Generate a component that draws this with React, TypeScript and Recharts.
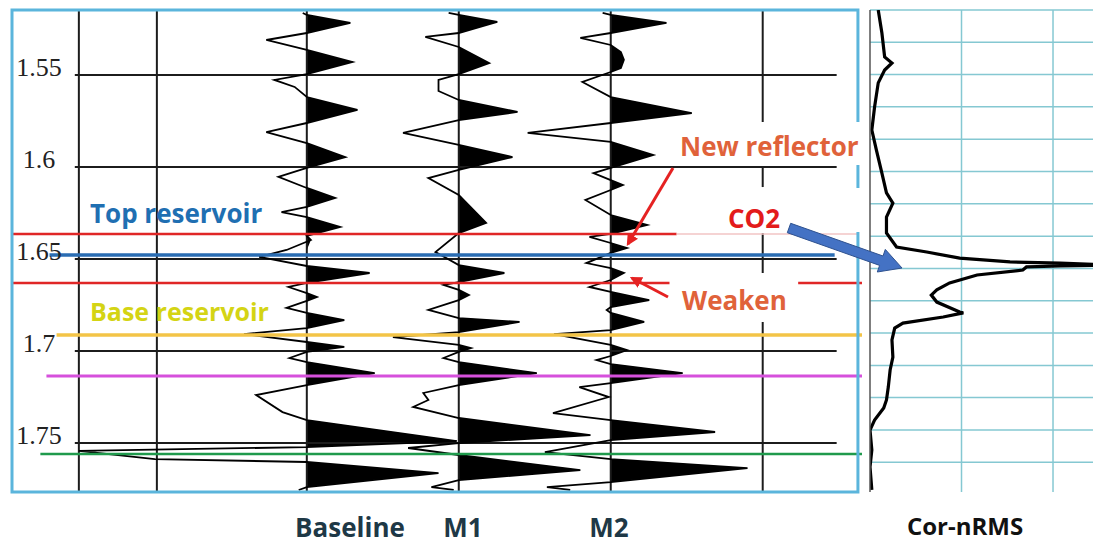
import React from 'react';
import { ComposedChart, LineChart, Line, Area, XAxis, YAxis, ReferenceLine, ReferenceArea } from 'recharts';

// ---------- data ----------
const timeTicks = [1.55, 1.6, 1.65, 1.7, 1.75];
const timeDomain: [number, number] = [1.5147, 1.7766];

const traceNames = ['Baseline', 'M1', 'M2'];
const traceOffsets = [300, 450, 600];
const gridColumns = [75, 152];

// [time (s), amplitude]
const baselineTrace: [number, number][] = [
  [1.5163, -4], [1.5174, 0], [1.5217, 43], [1.5272, 0], [1.531, -40], [1.5364, 0], [1.5429, 45], [1.5495, 0],
  [1.5527, -32], [1.5565, -12], [1.562, 0], [1.569, 50], [1.5761, 0], [1.581, -40], [1.587, 0], [1.5946, 38],
  [1.6005, 0], [1.6054, -28], [1.6114, 0], [1.6168, 28], [1.6217, 0], [1.6245, -25], [1.6272, 0], [1.6326, 33],
  [1.6375, 0], [1.6397, 4], [1.6451, -20], [1.6489, -47], [1.6538, 0], [1.6576, 62], [1.663, 0], [1.6652, -18],
  [1.6685, 0], [1.6707, 10], [1.6728, 0], [1.6766, -20], [1.6793, 0], [1.6832, 37], [1.6875, 0], [1.6908, -62],
  [1.6951, 0], [1.6978, 37], [1.7005, 0], [1.7038, -17], [1.706, 0], [1.712, 67], [1.7185, 0], [1.7239, -50],
  [1.7332, -24], [1.7375, 0], [1.7489, 148], [1.7522, 0], [1.7543, -225], [1.7587, -150], [1.7603, 0],
  [1.7663, 130], [1.7739, 0], [1.7755, -8],
];

const m1Trace: [number, number][] = [
  [1.5163, -10], [1.5174, 0], [1.5212, 38], [1.5272, 0], [1.5293, -33], [1.5348, 0], [1.5435, 30], [1.5495, 0],
  [1.5527, -20], [1.5587, -20], [1.5636, 0], [1.5701, 58], [1.5745, 0], [1.5815, -55], [1.588, 0], [1.5946, 53],
  [1.6016, 0], [1.606, -30], [1.6152, 0], [1.6304, 27], [1.6359, 0], [1.6462, -23], [1.6533, 0], [1.6576, 45],
  [1.6625, 0], [1.6641, -15], [1.6668, 0], [1.6696, 10], [1.6723, 0], [1.6777, -30], [1.6821, 0], [1.6842, 60],
  [1.6897, 0], [1.6924, -65], [1.6967, 0], [1.6984, 12], [1.7005, 0], [1.7038, -15], [1.706, 0], [1.712, 77],
  [1.7185, 0], [1.7228, -35], [1.7266, -30], [1.7304, -45], [1.7364, 0], [1.7457, 130], [1.75, 0], [1.7527, -50],
  [1.7565, 0], [1.7647, 120], [1.7701, 0], [1.7739, -27], [1.7755, -5],
];

const m2Trace: [number, number][] = [
  [1.5163, -8], [1.5174, 0], [1.5217, 55], [1.5272, 0], [1.5299, -30], [1.5337, 0], [1.5375, 10], [1.5418, 13],
  [1.5462, 10], [1.5484, 0], [1.5538, -28], [1.562, 0], [1.5707, 80], [1.5761, 0], [1.5815, -82], [1.5864, 0],
  [1.5935, 42], [1.6005, 0], [1.6033, -17], [1.6071, 0], [1.6098, 12], [1.6125, 0], [1.6179, -25], [1.6261, 0],
  [1.6315, 36], [1.6364, 0], [1.638, -21], [1.6413, 0], [1.644, 16], [1.6467, 0], [1.6522, -24], [1.6549, 0],
  [1.6576, 13], [1.6614, 0], [1.6652, -21], [1.6679, 0], [1.6723, 38], [1.6761, 0], [1.6777, -4], [1.6793, 0],
  [1.6842, 33], [1.6886, 0], [1.6908, -56], [1.6967, 0], [1.6995, 16], [1.7027, 0], [1.7049, -14], [1.7071, 0],
  [1.712, 71], [1.7174, 0], [1.7196, -31], [1.725, -2], [1.7337, -57], [1.7375, 0], [1.744, 103], [1.7484, 0],
  [1.7549, -65], [1.7587, 0], [1.7636, 135], [1.7712, 0], [1.7739, -63], [1.7755, -40],
];

const horizonNames = ['red-top', 'top reservoir', 'red-base', 'base reservoir', 'magenta', 'green'];
const horizonTimes = [1.6364, 1.6478, 1.663, 1.6913, 1.7136, 1.756];

const corTimes = [
  1.5147, 1.5272, 1.5402, 1.5435, 1.5473, 1.5543, 1.5674, 1.5799, 1.5908, 1.6033, 1.6141, 1.6196, 1.6272,
  1.6359, 1.6435, 1.6462, 1.6495, 1.6516, 1.6522, 1.6533, 1.6538, 1.6543, 1.656, 1.6587, 1.663, 1.6668,
  1.6696, 1.6734, 1.6788, 1.6793, 1.6815, 1.6848, 1.6875, 1.694, 1.7033, 1.7103, 1.7196, 1.7266, 1.731,
  1.7375, 1.7429, 1.7538, 1.763, 1.7755,
];
const corNrms = [
  0.09, 0.13, 0.16, 0.24, 0.16, 0.09, 0.05, 0.02, 0.07, 0.13, 0.18, 0.25, 0.18,
  0.18, 0.29, 0.62, 0.98, 1.53, 2.08, 2.6, 2.08, 1.71, 1.67, 1.17, 0.87, 0.73,
  0.67, 0.73, 0.98, 1.02, 0.8, 0.36, 0.27, 0.24, 0.25, 0.22, 0.2, 0.18, 0.15,
  0.05, 0.0, 0.02, 0.0, 0.02,
];
const corGridTimes = [
  1.5147, 1.5322, 1.5498, 1.5673, 1.5849, 1.6025, 1.62, 1.6376, 1.6551, 1.6727, 1.6902, 1.7078, 1.7253,
  1.7429, 1.7604,
];
const corGridValues = [1, 2];

// ---------- derived tables ----------
const traces = [baselineTrace, m1Trace, m2Trace];
const lineData = traces.map((tr, i) => tr.map(([t, a]) => ({ t, v: traceOffsets[i] + a })));
const fillData = traces.map((tr, i) => tr.map(([t, a]) => ({ t, v: traceOffsets[i] + Math.max(a, 0) })));
const corData = corTimes.map((t, i) => ({ t, v: corNrms[i] }));

const horizonStyles = [
  { stroke: '#e02626', w: 2.5, x1: 9, x2: 665 },
  { stroke: '#2a6db3', w: 3.5, x1: 46, x2: 821 },
  { stroke: '#e02626', w: 2.5, x1: 9, x2: 658 },
  { stroke: '#f3c447', w: 3.5, x1: 53, x2: 848 },
  { stroke: '#d650dc', w: 3, x1: 43, x2: 848 },
  { stroke: '#1f9a4c', w: 2.5, x1: 37, x2: 848 },
];

const labelFont = "'Open Sans', 'DejaVu Sans', sans-serif";

const TimeTick = (props: any) => {
  const { y, payload } = props;
  return (
    <text x={39} y={y + 1} textAnchor="middle" fontFamily="'Liberation Serif', serif" fontSize={26} fill="#222">
      {payload.value}
    </text>
  );
};

export default function App() {
  const xDomain: [number, number] = [9, 849];
  return (
    <div style={{ position: 'absolute', left: 0, top: 0, width: 1093, height: 545, background: '#fff', overflow: 'hidden' }}>
      <div style={{ position: 'absolute', left: 0, top: 0 }}>
        <ComposedChart layout="vertical" width={870} height={500} margin={{ top: 10, left: 11, right: 7, bottom: 8 }}>
          <XAxis type="number" domain={xDomain} hide allowDataOverflow />
          <YAxis
            type="number"
            dataKey="t"
            domain={timeDomain}
            allowDataOverflow
            ticks={timeTicks}
            interval={0}
            width={1}
            axisLine={false}
            tickLine={false}
            tick={(p: any) => <TimeTick {...p} />}
          />
          {/* black grid */}
          {timeTicks.map((t) => (
            <ReferenceLine key={'h' + t} segment={[{ x: 71, y: t }, { x: 823, y: t }]} stroke="#1c1c1c" strokeWidth={2} />
          ))}
          {gridColumns.concat(traceOffsets).map((x) => (
            <ReferenceLine key={'v' + x} x={x} stroke="#1c1c1c" strokeWidth={2} />
          ))}
          <ReferenceLine segment={[{ x: 750, y: 1.5147 }, { x: 750, y: 1.5767 }]} stroke="#1c1c1c" strokeWidth={2} />
          <ReferenceLine segment={[{ x: 750, y: 1.6 }, { x: 750, y: 1.6109 }]} stroke="#1c1c1c" strokeWidth={2} />
          <ReferenceLine segment={[{ x: 750, y: 1.6359 }, { x: 750, y: 1.6576 }]} stroke="#1c1c1c" strokeWidth={2} />
          <ReferenceLine segment={[{ x: 750, y: 1.6842 }, { x: 750, y: 1.7766 }]} stroke="#1c1c1c" strokeWidth={2} />

          {/* wiggle traces */}
          {traceNames.map((name, i) => (
            <Area
              key={'fill' + name}
              data={fillData[i]}
              dataKey="v"
              type="linear"
              baseValue={traceOffsets[i]}
              fill="#000"
              fillOpacity={1}
              stroke="none"
              dot={false}
              activeDot={false}
              isAnimationActive={false}
            />
          ))}
          {traceNames.map((name, i) => (
            <Line
              key={'line' + name}
              data={lineData[i]}
              dataKey="v"
              type="linear"
              stroke="#000"
              strokeWidth={1.8}
              dot={false}
              activeDot={false}
              isAnimationActive={false}
            />
          ))}

          {/* horizons */}
          {horizonTimes.map((t, i) => (
            <ReferenceLine
              key={horizonNames[i]}
              segment={[{ x: horizonStyles[i].x1, y: t }, { x: horizonStyles[i].x2, y: t }]}
              stroke={horizonStyles[i].stroke}
              strokeWidth={horizonStyles[i].w}
              zIndex={1500}
            />
          ))}
          <ReferenceLine segment={[{ x: 665, y: horizonTimes[0] }, { x: 844, y: horizonTimes[0] }]} stroke="#f2c4c4" strokeWidth={1.5} zIndex={1500} />
          <ReferenceLine segment={[{ x: 785, y: horizonTimes[2] }, { x: 848, y: horizonTimes[2] }]} stroke="#e02626" strokeWidth={2.5} zIndex={1500} />

          <ReferenceArea
            x1={9}
            x2={844}
            y1={timeDomain[0]}
            y2={timeDomain[1]}
            fill="none"
            stroke="#5bb5dc"
            strokeWidth={3}
            ifOverflow="visible"
            zIndex={1600}
          />
        </ComposedChart>
      </div>

      <div style={{ position: 'absolute', left: 860, top: 0 }}>
        <LineChart layout="vertical" width={233} height={500} margin={{ top: 10, left: 9, right: 0, bottom: 8 }}>
          <XAxis type="number" domain={[0, 2.437]} hide allowDataOverflow />
          <YAxis
            type="number"
            dataKey="t"
            domain={timeDomain}
            allowDataOverflow
            ticks={corGridTimes}
            interval={0}
            width={1}
            tick={false}
            tickSize={4}
            axisLine={{ stroke: '#555', strokeWidth: 1.5 }}
            tickLine={{ stroke: '#555' }}
          />
          {corGridTimes.map((t) => (
            <ReferenceLine key={'cg' + t} y={t} stroke="#85c8d2" strokeWidth={1.5} ifOverflow="visible" />
          ))}
          {corGridValues.map((x) => (
            <ReferenceLine key={'cv' + x} x={x} stroke="#85c8d2" strokeWidth={1.5} />
          ))}
          <Line
            data={corData}
            dataKey="v"
            type="linear"
            stroke="#000"
            strokeWidth={3.2}
            dot={false}
            activeDot={false}
            isAnimationActive={false}
          />
        </LineChart>
      </div>

      <svg width={1093} height={545} style={{ position: 'absolute', left: 0, top: 0, pointerEvents: 'none' }}>
        <defs>
          <marker id="redHead" viewBox="0 0 10 10" refX="8" refY="5" markerWidth="4" markerHeight="4" orient="auto">
            <path d="M0,0 L10,5 L0,10 z" fill="#e52222" />
          </marker>
        </defs>
        <rect x={672} y={122} width={190} height={43} fill="#fff" />
        <rect x={672} y={188} width={190} height={44} fill="#fff" />
        <rect x={672} y={273} width={123} height={49} fill="#fff" />

        <text x={90} y={223} fontFamily={labelFont} fontWeight={700} fontSize={26} fill="#1f6fb2">Top reservoir</text>
        <text x={90} y={321} fontFamily={labelFont} fontWeight={700} fontSize={25} fill="#d4d414">Base reservoir</text>
        <text x={680} y={156} fontFamily={labelFont} fontWeight={700} fontSize={26} fill="#e0623a">New reflector</text>
        <text x={728} y={228} fontFamily={labelFont} fontWeight={700} fontSize={26} fill="#e31b1b">CO2</text>
        <text x={682} y={310} fontFamily={labelFont} fontWeight={700} fontSize={26} fill="#e0623a">Weaken</text>

        <line x1={673} y1={168} x2={628} y2={244} stroke="#e52222" strokeWidth={3} markerEnd="url(#redHead)" />
        <line x1={668} y1={297} x2={632} y2={278} stroke="#e52222" strokeWidth={3} markerEnd="url(#redHead)" />
        <polygon
          points="790.7,223.3 883,256 885.3,249.4 902,268 877.3,272 879.6,265.4 787.3,232.7"
          fill="#4472c4"
          stroke="#2f528f"
          strokeWidth={1}
        />

        <text x={350} y={537} textAnchor="middle" fontFamily={labelFont} fontWeight={700} fontSize={26} fill="#1e3846">Baseline</text>
        <text x={463} y={537} textAnchor="middle" fontFamily={labelFont} fontWeight={700} fontSize={26} fill="#1e3846">M1</text>
        <text x={609} y={537} textAnchor="middle" fontFamily={labelFont} fontWeight={700} fontSize={26} fill="#1e3846">M2</text>
        <text x={965} y={535} textAnchor="middle" fontFamily={labelFont} fontWeight={700} fontSize={24} fill="#111">Cor-nRMS</text>
      </svg>
    </div>
  );
}
